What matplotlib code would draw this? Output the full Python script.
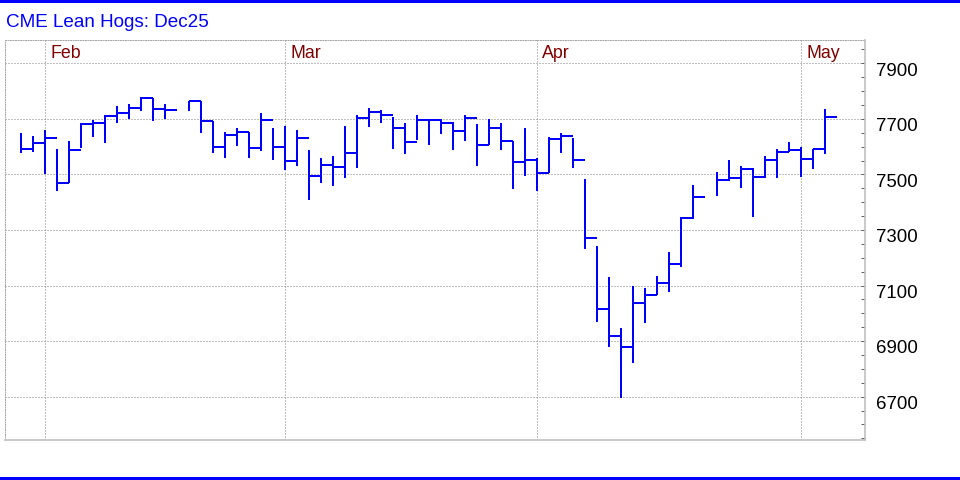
import numpy as np
import matplotlib
matplotlib.use("Agg")
import matplotlib.pyplot as plt
from matplotlib.transforms import ScaledTranslation, blended_transform_factory
from matplotlib.patches import Rectangle
from matplotlib.ticker import MultipleLocator, FixedLocator

plt.rcParams['font.family'] = ['Liberation Sans', 'DejaVu Sans']

# Daily trading sessions (holidays are simply absent)
dates = np.array([
    '2025-01-29', '2025-01-30', '2025-01-31',
    '2025-02-03', '2025-02-04', '2025-02-05', '2025-02-06', '2025-02-07',
    '2025-02-10', '2025-02-11', '2025-02-12', '2025-02-13', '2025-02-14',
    '2025-02-18', '2025-02-19', '2025-02-20', '2025-02-21',
    '2025-02-24', '2025-02-25', '2025-02-26', '2025-02-27', '2025-02-28',
    '2025-03-03', '2025-03-04', '2025-03-05', '2025-03-06', '2025-03-07',
    '2025-03-10', '2025-03-11', '2025-03-12', '2025-03-13', '2025-03-14',
    '2025-03-17', '2025-03-18', '2025-03-19', '2025-03-20', '2025-03-21',
    '2025-03-24', '2025-03-25', '2025-03-26', '2025-03-27', '2025-03-28',
    '2025-03-31',
    '2025-04-01', '2025-04-02', '2025-04-03', '2025-04-04',
    '2025-04-07', '2025-04-08', '2025-04-09', '2025-04-10', '2025-04-11',
    '2025-04-14', '2025-04-15', '2025-04-16', '2025-04-17',
    '2025-04-21', '2025-04-22', '2025-04-23', '2025-04-24', '2025-04-25',
    '2025-04-28', '2025-04-29', '2025-04-30',
    '2025-05-01', '2025-05-02',
], dtype='datetime64[D]')

high = [7648, 7638, 7660,
        7592, 7620, 7684, 7696, 7714,
        7746, 7754, 7778, 7774, 7753,
        7766, 7766, 7694, 7652,
        7666, 7652, 7720, 7666, 7674,
        7660, 7588, 7558, 7566, 7674,
        7714, 7738, 7732, 7708, 7686,
        7714, 7696, 7698, 7690, 7714,
        7680, 7698, 7686, 7622, 7666,
        7558,
        7634, 7648, 7630, 7484,
        7242, 7132, 6946, 7100, 7090,
        7136, 7220, 7346, 7462,
        7508, 7552, 7530, 7522, 7566,
        7591, 7618, 7600,
        7591, 7736]

low = [7576, 7582, 7500,
       7441, 7469, 7596, 7636, 7612,
       7686, 7698, 7729, 7694, 7700,
       7729, 7648, 7578, 7560,
       7604, 7560, 7586, 7552, 7516,
       7532, 7408, 7468, 7458, 7488,
       7524, 7672, 7684, 7592, 7574,
       7624, 7606, 7646, 7588, 7620,
       7530, 7606, 7588, 7448, 7494,
       7440,
       7506, 7578, 7524, 7231,
       6970, 6880, 6694, 6820, 6966,
       7066, 7076, 7166, 7340,
       7424, 7476, 7452, 7348, 7488,
       7488, 7582, 7490,
       7520, 7573]

close = [7592, 7612, 7632,
         7469, 7589, 7680, 7684, 7709,
         7722, 7740, 7774, 7736, 7733,
         7766, 7694, 7600, 7643,
         7652, 7594, 7696, 7600, 7550,
         7632, 7494, 7534, 7527, 7578,
         7704, 7725, 7715, 7667, 7617,
         7696, 7696, 7686, 7656, 7704,
         7606, 7668, 7620, 7546, 7552,
         7506,
         7628, 7640, 7552, 7272,
         7017, 6920, 6880, 7038, 7066,
         7110, 7179, 7342, 7420,
         7480, 7488, 7518, 7492, 7552,
         7582, 7588, 7556,
         7591, 7708]

# Month separators sit on the last session of the previous month
month_breaks = np.array(['2025-01-31', '2025-02-28', '2025-03-31', '2025-04-30'],
                        dtype='datetime64[D]')
month_labels = ['Feb', 'Mar', 'Apr', 'May']
price_ticks = [6700, 6900, 7100, 7300, 7500, 7700, 7900]

origin = np.datetime64('2025-01-31')
x = np.busday_count(origin, dates)
xb = np.busday_count(origin, month_breaks)

BLUE = '#0000ff'
GRID = '#808080'

fig = plt.figure(figsize=(9.6, 4.8), dpi=100)
fig.patch.set_facecolor('white')
ax = fig.add_axes([5 / 960, 40 / 480, 860 / 960, 400 / 480])

# High-low bars with a close tick running to the next session
ax.vlines(x, low, high, color=BLUE, lw=1.44, capstyle='butt', antialiased=False, zorder=3)
ax.hlines(close, x, x + 1, color=BLUE, lw=1.44, capstyle='butt', antialiased=False, zorder=3)

ax.set_xlim(-40 / 12, 820 / 12)
ax.set_ylim(6544, 7984)

# grid
ax.xaxis.set_major_locator(FixedLocator(xb))
ax.yaxis.set_major_locator(FixedLocator(price_ticks))
ax.yaxis.set_minor_locator(MultipleLocator(50))
ax.grid(True, which='major', linestyle=(0, (1, 2)), color=GRID, lw=0.72)
ax.set_axisbelow(True)

ax.tick_params(axis='x', which='both', length=0, labelbottom=False)
ax.yaxis.tick_right()
ax.tick_params(axis='y', which='both', direction='in', length=3, width=0.72,
               color='#606060', left=False, right=True)
ax.tick_params(axis='y', which='major', labelsize=13.4, pad=8, labelcolor='black')
ax.set_yticklabels([str(v) for v in price_ticks])
shift = ScaledTranslation(0, -5.7 / 100, fig.dpi_scale_trans)
for lab in ax.get_yticklabels():
    lab.set_transform(lab.get_transform() + shift)

# frame
for side in ('top', 'left'):
    ax.spines[side].set_color('#a8a8a8')
    ax.spines[side].set_linestyle((0, (1, 1.5)))
    ax.spines[side].set_linewidth(0.72)
for side in ('bottom', 'right'):
    ax.spines[side].set_color('#c0c0c0')
    ax.spines[side].set_linewidth(1.2)

# month names at the top of each separator
trans = blended_transform_factory(ax.transData, ax.transAxes)
for xm, name in zip(xb, month_labels):
    ax.text(xm, 1, name, transform=trans + ScaledTranslation(5 / 100, -18 / 100, fig.dpi_scale_trans),
            ha='left', va='baseline', fontsize=12.8, color='#800000')

fig.text(6 / 960, 1 - 27.3 / 480, 'CME Lean Hogs: Dec25', ha='left', va='baseline',
         fontsize=13.6, color=BLUE)

# blue rules across the top and bottom
fig.add_artist(Rectangle((0, 1 - 3 / 480), 1, 3 / 480, transform=fig.transFigure,
                         facecolor=BLUE, edgecolor='none'))
fig.add_artist(Rectangle((0, 0), 1, 3 / 480, transform=fig.transFigure,
                         facecolor=BLUE, edgecolor='none'))

fig.savefig('out.png', dpi=100, facecolor='white')
